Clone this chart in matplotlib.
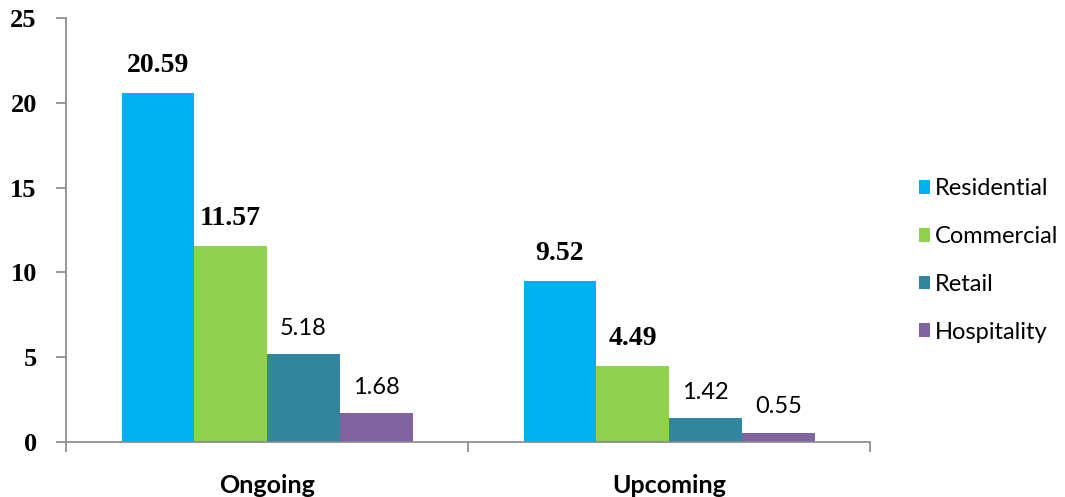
import matplotlib
matplotlib.use("Agg")
import numpy as np
from matplotlib import pyplot as plt

categories = ["Ongoing", "Upcoming"]
series = ["Residential", "Commercial", "Retail", "Hospitality"]
residential = [20.59, 9.52]
commercial = [11.57, 4.49]
retail = [5.18, 1.42]
hospitality = [1.68, 0.55]

colors = ["#00B0F0", "#92D050", "#31859C", "#8064A2"]
# first two series get bold serif labels, the rest plain sans
label_bold = [True, True, False, False]

serif = "Liberation Serif"
sans = "Lato"

fig = plt.figure(figsize=(10.65, 4.97), dpi=100)
ax = fig.add_axes([0.062, 0.1107, 0.755, 0.8531])

X = np.arange(len(categories))
width = 0.181
values = [residential, commercial, retail, hospitality]
for i, (name, vals) in enumerate(zip(series, values)):
    xs = X + (i - 1.5) * width
    ax.bar(xs, vals, width, color=colors[i], label=name, linewidth=0)
    for x, v in zip(xs, vals):
        if label_bold[i]:
            ax.text(x, v + 0.85, f"{v:.2f}", ha="center", va="bottom",
                    fontsize=20, fontweight="bold", family=serif)
        else:
            ax.text(x, v + 0.9, f"{v:.2f}", ha="center", va="bottom",
                    fontsize=17, family=sans)

ax.set_xlim(-0.5, 1.5)
ax.set_ylim(0, 25)
ax.set_yticks(range(0, 26, 5))
ax.set_xticks([-0.5, 0.5, 1.5])
ax.set_xticklabels([])
ax.set_xticks(X, minor=True)
ax.set_xticklabels(categories, minor=True)
ax.tick_params(axis="x", which="minor", length=0, pad=23)
ax.tick_params(axis="x", which="major", length=7, color="#888888", width=1.2)
ax.tick_params(axis="y", length=7, color="#888888", width=1.2, pad=14)
for lbl in ax.get_xticklabels(minor=True):
    lbl.set_family(sans)
    lbl.set_fontweight("bold")
    lbl.set_fontsize(18)
for lbl in ax.get_yticklabels():
    lbl.set_family(serif)
    lbl.set_fontweight("bold")
    lbl.set_fontsize(19)

for s in ["top", "right"]:
    ax.spines[s].set_visible(False)
for s in ["left", "bottom"]:
    ax.spines[s].set_color("#888888")
    ax.spines[s].set_linewidth(1.2)

leg = ax.legend(loc="center left", bbox_to_anchor=(1.034, 0.428), frameon=False,
                prop={"family": sans, "size": 17}, handlelength=0.5,
                handleheight=0.5, handletextpad=0.2, labelspacing=1.13)

fig.savefig("out.png", dpi=100)
